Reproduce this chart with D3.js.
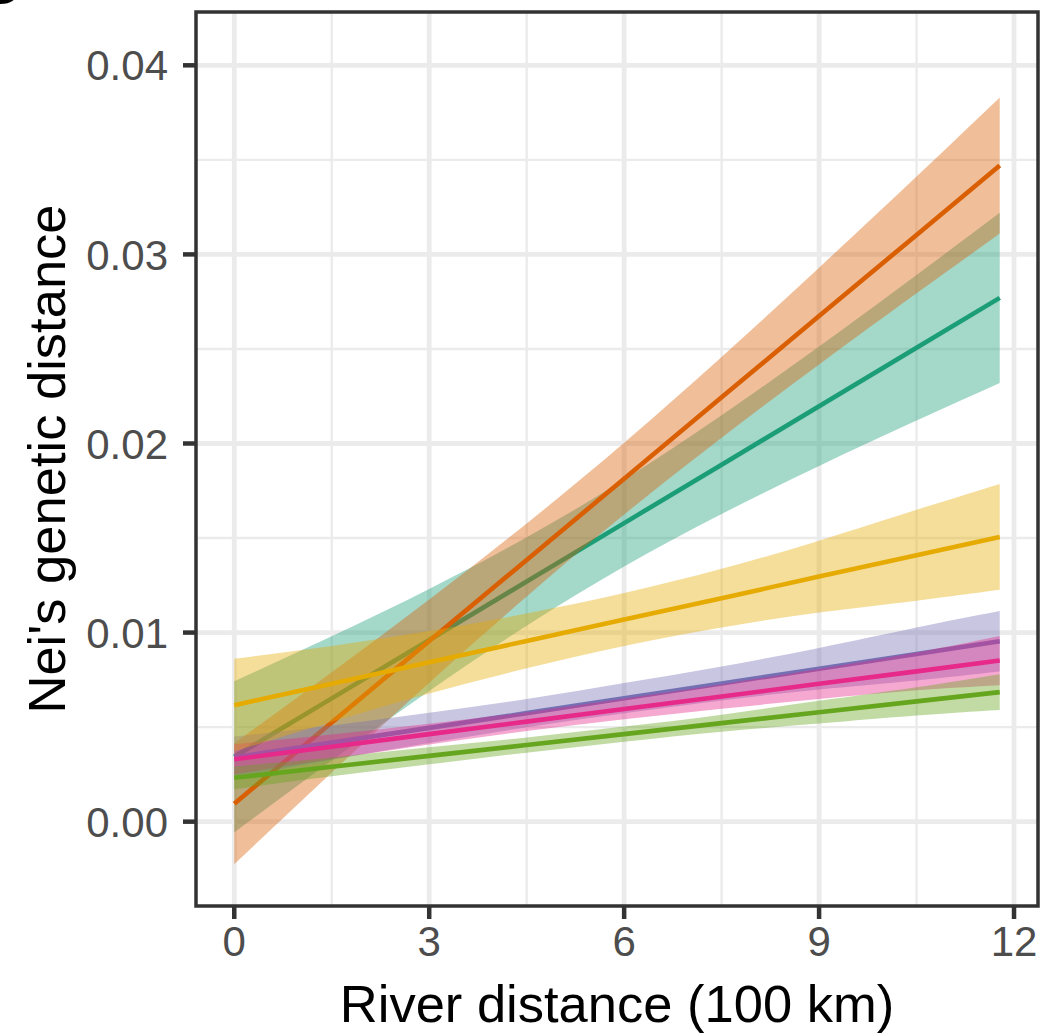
<!DOCTYPE html>
<html>
<head>
<meta charset="utf-8">
<script src="https://cdn.jsdelivr.net/npm/d3@7"></script>
<style>
  html, body { margin: 0; padding: 0; background: #ffffff; }
  svg { display: block; }
  text { font-family: "Liberation Sans", Arial, Helvetica, sans-serif; }
</style>
</head>
<body>
<svg id="chart" width="1051" height="1035"></svg>
<script>
// ---- data ----
const xSamples = [0, 1.5, 3, 4.5, 6, 7.5, 9, 10.5, 11.78];

const seriesNames = ["teal", "orange", "purple", "pink", "green", "yellow"];
const seriesColors = ["#1B9E77", "#D95F02", "#7570B3", "#E7298A", "#66A61E", "#E6AB02"];

const tealFit   = [0.00343, 0.00652, 0.00961, 0.0127, 0.01579, 0.01888, 0.02197, 0.02506, 0.0277];
const tealLow   = [-0.00057, 0.00323, 0.00691, 0.01036, 0.01349, 0.01627, 0.01881, 0.02121, 0.0232];
const tealHigh  = [0.00743, 0.00981, 0.01231, 0.01504, 0.01809, 0.02149, 0.02513, 0.02891, 0.0322];

const orangeFit  = [0.00095, 0.00525, 0.00955, 0.01384, 0.01814, 0.02244, 0.02674, 0.03103, 0.0347];
const orangeLow  = [-0.00225, 0.0026, 0.00735, 0.01191, 0.01624, 0.02031, 0.02418, 0.02794, 0.0311];
const orangeHigh = [0.00415, 0.0079, 0.01175, 0.01577, 0.02004, 0.02457, 0.0293, 0.03412, 0.0383];

const purpleFit  = [0.0034, 0.00418, 0.00496, 0.00574, 0.00653, 0.00731, 0.00809, 0.00887, 0.00954];
const purpleLow  = [0.0023, 0.00328, 0.00416, 0.00499, 0.00573, 0.00641, 0.00699, 0.00747, 0.00794];
const purpleHigh = [0.0045, 0.00508, 0.00576, 0.00649, 0.00733, 0.00821, 0.00919, 0.01027, 0.01114];

const pinkFit  = [0.0033, 0.00396, 0.00463, 0.00529, 0.00596, 0.00662, 0.00729, 0.00795, 0.00852];
const pinkLow  = [0.0025, 0.00331, 0.00408, 0.00479, 0.00541, 0.00597, 0.00649, 0.00695, 0.00722];
const pinkHigh = [0.0041, 0.00461, 0.00518, 0.00579, 0.00651, 0.00727, 0.00809, 0.00895, 0.00982];

const greenFit  = [0.00232, 0.0029, 0.00348, 0.00405, 0.00463, 0.00521, 0.00579, 0.00636, 0.00685];
const greenLow  = [0.00172, 0.0024, 0.00303, 0.00365, 0.00423, 0.00476, 0.00519, 0.00561, 0.0059];
const greenHigh = [0.00292, 0.0034, 0.00393, 0.00445, 0.00503, 0.00566, 0.00639, 0.00711, 0.0078];

const yellowFit  = [0.00616, 0.00729, 0.00843, 0.00956, 0.01069, 0.01182, 0.01296, 0.01409, 0.01506];
const yellowLow  = [0.00371, 0.00529, 0.00678, 0.00811, 0.00929, 0.01027, 0.01106, 0.01169, 0.01226];
const yellowHigh = [0.00861, 0.00929, 0.01008, 0.01101, 0.01209, 0.01337, 0.01486, 0.01649, 0.01786];

const xTicks = [0, 3, 6, 9, 12];
const xTickLabels = ["0", "3", "6", "9", "12"];
const xMinor = [1.5, 4.5, 7.5, 10.5];
const yTicks = [0, 0.01, 0.02, 0.03, 0.04];
const yTickLabels = ["0.00", "0.01", "0.02", "0.03", "0.04"];
const yMinor = [0.005, 0.015, 0.025, 0.035];

const xTitle = "River distance (100 km)";
const yTitle = "Nei's genetic distance";

// ---- build series table ----
const fits  = [tealFit, orangeFit, purpleFit, pinkFit, greenFit, yellowFit];
const lows  = [tealLow, orangeLow, purpleLow, pinkLow, greenLow, yellowLow];
const highs = [tealHigh, orangeHigh, purpleHigh, pinkHigh, greenHigh, yellowHigh];
const series = seriesNames.map((n, i) => ({
  name: n,
  color: seriesColors[i],
  values: xSamples.map((x, j) => ({ x: x, fit: fits[i][j], lo: lows[i][j], hi: highs[i][j] }))
}));

// ---- layout ----
const panel = { left: 196, right: 1038, top: 12, bottom: 906 };
const xMax = 11.78;
const x = d3.scaleLinear().domain([-0.05 * xMax, 1.05 * xMax]).range([panel.left, panel.right]);
const y = d3.scaleLinear().domain([-0.00446, 0.04282]).range([panel.bottom, panel.top]);

const svg = d3.select("#chart");
svg.append("rect").attr("width", 1051).attr("height", 1035).attr("fill", "#ffffff");

// panel tag (cut off at top-left, as in the reference)
svg.append("text").attr("x", -24).attr("y", 4)
  .attr("font-size", 60).attr("font-weight", "bold").attr("fill", "#000").text("B");

svg.append("defs").append("clipPath").attr("id", "pclip")
  .append("rect").attr("x", panel.left).attr("y", panel.top)
  .attr("width", panel.right - panel.left).attr("height", panel.bottom - panel.top);

const g = svg.append("g");

// gridlines
g.selectAll(".xminor").data(xMinor).join("line")
  .attr("x1", d => x(d)).attr("x2", d => x(d))
  .attr("y1", panel.top).attr("y2", panel.bottom)
  .attr("stroke", "#EBEBEB").attr("stroke-width", 2.4);
g.selectAll(".yminor").data(yMinor).join("line")
  .attr("y1", d => y(d)).attr("y2", d => y(d))
  .attr("x1", panel.left).attr("x2", panel.right)
  .attr("stroke", "#EBEBEB").attr("stroke-width", 2.4);
g.selectAll(".xmajor").data(xTicks).join("line")
  .attr("x1", d => x(d)).attr("x2", d => x(d))
  .attr("y1", panel.top).attr("y2", panel.bottom)
  .attr("stroke", "#EBEBEB").attr("stroke-width", 4.8);
g.selectAll(".ymajor").data(yTicks).join("line")
  .attr("y1", d => y(d)).attr("y2", d => y(d))
  .attr("x1", panel.left).attr("x2", panel.right)
  .attr("stroke", "#EBEBEB").attr("stroke-width", 4.8);

// data layers: ribbon then line, per group
const area = d3.area().x(d => x(d.x)).y0(d => y(d.lo)).y1(d => y(d.hi)).curve(d3.curveNatural);
const line = d3.line().x(d => x(d.x)).y(d => y(d.fit));
const dataG = g.append("g").attr("clip-path", "url(#pclip)");
series.forEach(s => {
  dataG.append("path").datum(s.values).attr("d", area)
    .attr("fill", s.color).attr("fill-opacity", 0.4).attr("stroke", "none");
  dataG.append("path").datum(s.values).attr("d", line)
    .attr("fill", "none").attr("stroke", s.color).attr("stroke-width", 4.6);
});

// panel border
g.append("rect").attr("x", panel.left).attr("y", panel.top)
  .attr("width", panel.right - panel.left).attr("height", panel.bottom - panel.top)
  .attr("fill", "none").attr("stroke", "#333333").attr("stroke-width", 3.5);

// axes ticks
const tickLen = 13;
g.selectAll(".xtick").data(xTicks).join("line")
  .attr("x1", d => x(d)).attr("x2", d => x(d))
  .attr("y1", panel.bottom).attr("y2", panel.bottom + tickLen)
  .attr("stroke", "#333333").attr("stroke-width", 4.5);
g.selectAll(".ytick").data(yTicks).join("line")
  .attr("y1", d => y(d)).attr("y2", d => y(d))
  .attr("x1", panel.left - tickLen).attr("x2", panel.left)
  .attr("stroke", "#333333").attr("stroke-width", 4.5);

// tick labels
g.selectAll(".xlab").data(xTicks).join("text")
  .attr("x", d => x(d)).attr("y", 956)
  .attr("text-anchor", "middle").attr("font-size", 42).attr("fill", "#4D4D4D")
  .text((d, i) => xTickLabels[i]);
g.selectAll(".ylab").data(yTicks).join("text")
  .attr("x", 168).attr("y", d => y(d)).attr("dy", "0.36em")
  .attr("text-anchor", "end").attr("font-size", 42).attr("fill", "#4D4D4D")
  .text((d, i) => yTickLabels[i]);

// axis titles
svg.append("text").attr("x", (panel.left + panel.right) / 2).attr("y", 1022)
  .attr("text-anchor", "middle").attr("font-size", 52.5).attr("fill", "#000").text(xTitle);
svg.append("text").attr("transform", `translate(65, ${(panel.top + panel.bottom) / 2}) rotate(-90)`)
  .attr("text-anchor", "middle").attr("font-size", 52.5).attr("fill", "#000").text(yTitle);
</script>
</body>
</html>
